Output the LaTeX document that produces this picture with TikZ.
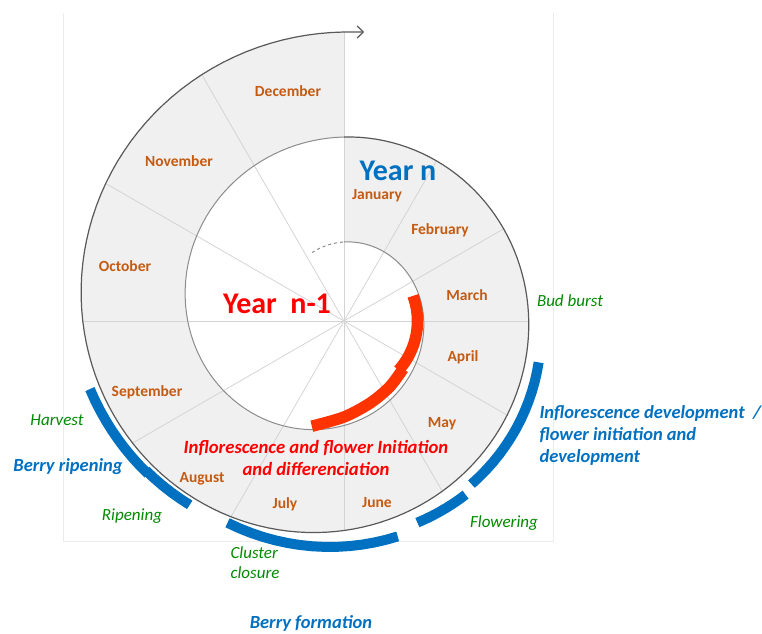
\documentclass[tikz,border=0pt]{standalone}
\usepackage{fontspec}
\setmainfont{Carlito}
\usetikzlibrary{arrows.meta}
\usetikzlibrary{positioning}

\definecolor{monthorange}{HTML}{C55A11}
\definecolor{phaseblue}{HTML}{0070C0}
\definecolor{stagegreen}{HTML}{008A00}
\definecolor{initred}{HTML}{FF3300}
\definecolor{bandgrey}{HTML}{F0F0F0}

\begin{document}
\begin{tikzpicture}[x=1pt,y=1pt,
    declare function={f(\t)=0.291667*\t-13.5*(1-cos(\t))-12*sin(\t);},
    month/.style={text=monthorange,font=\fontsize{15.5}{15.5}\selectfont\bfseries},
    stage/.style={text=stagegreen,font=\fontsize{17}{20}\selectfont\itshape},
    phase/.style={text=phaseblue,font=\fontsize{18.5}{22}\selectfont\bfseries\itshape},
    phasebar/.style={draw=phaseblue,line width=10pt},
    initbar/.style={draw=initred,line width=11.5pt},
    spoke/.style={draw=black!17,line width=0.8pt}]

  \useasboundingbox (-344,-312) rectangle (418,321);

  % chart frame
  \draw [black!8] (-281,308) -- (-281,-220) -- (209,-220) -- (209,308);

  \coordinate (c) at (0,0);
  \coordinate (tip) at (20,289);

  % spiral band
  \fill [bandgrey]
    plot [domain=0:360,samples=145] ({90-\x}:{79+f(\x)}) --
    plot [domain=360:0,samples=145] ({90-\x}:{184+f(\x)}) -- cycle;

  \foreach \t in {30,60,...,330}
    \path [spoke] (c) -- ({90-\t}:{184+f(\t)});
  \path [spoke] (c) -- (90:{184+f(360)});

  \draw [black!45,line width=1pt] plot [domain=0:360,samples=145] ({90-\x}:{79+f(\x)});
  \draw [black!45,line width=1pt,dashed] plot [domain=-25:0,samples=10] ({90-\x}:{79+f(\x)});
  \draw [black!65,line width=1.2pt,->,>={Straight Barb[length=6pt,width=12pt]}]
    plot [domain=0:360,samples=145] ({90-\x}:{184+f(\x)}) -- (tip);

  % inflorescence initiation
  \draw [initbar] plot [domain=70:132,samples=20] ({90-\x}:{73.5});
  \draw [initbar] plot [smooth] coordinates {(-39:76) (-55:80) (-72:86) (-90:96) (-107:110)};

  % phases
  \draw [phasebar] plot [domain=102:142,samples=15] ({90-\x}:{199+0.2*(\x-102)});
  \draw [phasebar] plot [domain=145:160,samples=8] ({90-\x}:{212+0.17*(\x-145)});
  \draw [phasebar] plot [domain=166:210,samples=15] ({90-\x}:{222+0.25*(\x-166)});
  \draw [phasebar] plot [domain=220:233,samples=6] ({90-\x}:{240+0.63*(\x-220)});
  \draw [phasebar] plot [domain=232:255,samples=10] ({90-\x}:{241+0.63*(\x-220)});

  % months
  \node [month] (jan) at (33,125) {January};
  \node [month] (feb) at (96,91) {February};
  \node [month] (mar) at (123,26) {March};
  \node [month] (apr) at (119,-36) {April};
  \node [month] (may) at (98,-103) {May};
  \node [month] (jun) at (33,-182) {June};
  \node [month] (jul) at (-59,-183) {July};
  \node [month] (aug) at (-142,-158) {August};
  \node [month] (sep) at (-197,-71) {September};
  \node [month] (oct) at (-219,55) {October};
  \node [month] (nov) at (-165,160) {November};
  \node [month] (dec) at (-56,230) {December};

  \node [text=phaseblue,font=\fontsize{30}{30}\selectfont\bfseries] (yearn) at (54,150) {Year n};
  \node [text=red,font=\fontsize{30}{30}\selectfont\bfseries] (yearprev) at (-67,17) {Year~~n-1};

  \node [text=red,font=\fontsize{18.7}{22}\selectfont\bfseries\itshape,align=center] (initlab)
    at (-28,-137) {Inflorescence and flower Initiation\\and differenciation};

  % stages and phases
  \node [stage] (budburst) at (226,20) {Bud burst};
  \node [phase,align=left,anchor=west] (devlab) at (192,-114)
    {Inflorescence development~~/\\flower initiation and\\development};
  \node [stage] (flowering) at (160,-202) {Flowering};
  \node [stage,align=left,anchor=west] (closure) at (-117,-242) {Cluster\\closure};
  \node [phase] (formation) at (-33,-302) {Berry formation};
  \node [stage] (ripening) at (-212,-195) {Ripening};
  \node [phase] (ripenlab) at (-276,-146) {Berry ripening};
  \node [stage] (harvest) at (-287,-99) {Harvest};

\end{tikzpicture}
\end{document}
